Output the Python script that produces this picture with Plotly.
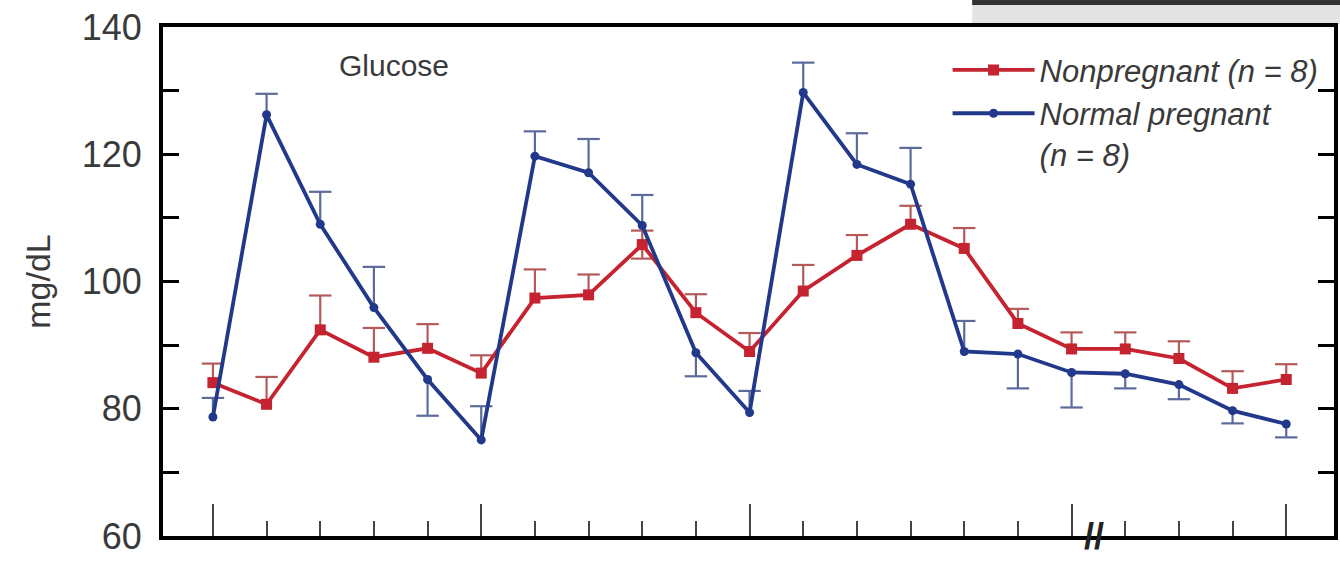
import plotly.graph_objects as go

# ---- data ----
time_index = list(range(21))
major_ticks = [0, 5, 10, 16, 20]

nonpreg = [84.1, 80.7, 92.4, 88.1, 89.5, 85.6, 97.4, 97.9, 105.8, 95.1, 89.0,
           98.5, 104.1, 109.0, 105.2, 93.4, 89.4, 89.4, 87.9, 83.2, 84.6]
nonpreg_up = [3.0, 4.3, 5.4, 4.6, 3.8, 2.8, 4.5, 3.2, 2.2, 2.9, 2.9,
              4.1, 3.2, 2.9, 3.2, 2.3, 2.6, 2.6, 2.7, 2.7, 2.4]
nonpreg_dn = [0, 0, 0, 0, 0, 0, 0, 0, 2.2, 0, 0,
              0, 0, 0, 0, 0, 0, 0, 0, 0, 0]

preg = [78.7, 126.2, 109.0, 95.9, 84.6, 75.1, 119.7, 117.1, 108.8, 88.8, 79.4,
        129.7, 118.4, 115.3, 89.0, 88.6, 85.7, 85.5, 83.8, 79.7, 77.6]
preg_up = [3.0, 3.3, 5.1, 6.4, 0, 5.3, 3.9, 5.3, 4.8, 0, 3.4,
           4.7, 4.9, 5.7, 4.8, 0, 0, 0, 0, 0, 0]
preg_dn = [0, 0, 0, 0, 5.7, 0, 0, 0, 0, 3.7, 0,
           0, 0, 0, 0, 5.4, 5.5, 2.3, 2.3, 2.0, 2.1]

y_ticks = [60, 80, 100, 120, 140]

RED = "#c4232f"
BLUE = "#22388a"
RED_ERR = "#b55a5a"
BLUE_ERR = "#5d6a9c"
FONT = "Liberation Sans, Arial, Helvetica, sans-serif"
X_RANGE = [-0.93, 20.89]


def err_traces(xs, ys, up, dn, color):
    sx, sy, cx, cy = [], [], [], []
    for x, y, u, d in zip(xs, ys, up, dn):
        if u > 0:
            sx += [x, x, None]
            sy += [y, y + u, None]
            cx.append(x)
            cy.append(y + u)
        if d > 0:
            sx += [x, x, None]
            sy += [y, y - d, None]
            cx.append(x)
            cy.append(y - d)
    stems = go.Scatter(x=sx, y=sy, mode="lines", line=dict(color=color, width=2.2),
                       showlegend=False, hoverinfo="skip")
    caps = go.Scatter(x=cx, y=cy, mode="markers",
                      marker=dict(symbol="line-ew", size=16,
                                  line=dict(color=color, width=2.2)),
                      showlegend=False, hoverinfo="skip")
    return [stems, caps]


fig = go.Figure()
for t in err_traces(time_index, nonpreg, nonpreg_up, nonpreg_dn, RED_ERR):
    fig.add_trace(t)
for t in err_traces(time_index, preg, preg_up, preg_dn, BLUE_ERR):
    fig.add_trace(t)

fig.add_trace(go.Scatter(
    x=time_index, y=nonpreg, mode="lines+markers",
    name="<i>Nonpregnant (n = 8)</i>",
    line=dict(color=RED, width=3.8),
    marker=dict(symbol="square", size=11, color=RED),
))
fig.add_trace(go.Scatter(
    x=time_index, y=preg, mode="lines+markers",
    name="<i>Normal pregnant<br>(n = 8)</i>",
    line=dict(color=BLUE, width=3.8),
    marker=dict(symbol="circle", size=9, color=BLUE),
))
# invisible trace on the overlay axis carrying the long (major) x ticks
fig.add_trace(go.Scatter(x=[X_RANGE[0]], y=[None], xaxis="x2", mode="markers",
                         showlegend=False, hoverinfo="skip"))

fig.update_layout(
    width=1340, height=563,
    margin=dict(l=163, r=2, t=27, b=27),
    paper_bgcolor="white", plot_bgcolor="white",
    font=dict(family=FONT, color="#3a3a3a"),
    showlegend=True,
    legend=dict(
        x=0.670, y=0.968, xanchor="left", yanchor="top",
        font=dict(size=31, color="#3a3a3a", family=FONT),
        bgcolor="rgba(0,0,0,0)", valign="top", itemwidth=82,
        tracegroupgap=0,
    ),
    annotations=[
        dict(text="Glucose", xref="paper", yref="paper", x=0.197, y=0.925,
             xanchor="center", yanchor="middle",
             showarrow=False, font=dict(size=30, color="#3a3a3a", family=FONT)),
        dict(text="<b>//</b>", xref="x", yref="paper", x=16.42, y=0.0,
             xanchor="center", yanchor="middle",
             showarrow=False, font=dict(size=36, color="#222", family=FONT)),
    ],
    shapes=[
        dict(type="rect", xref="paper", yref="paper", x0=0.691, x1=1.01,
             y0=1.006, y1=1.043, fillcolor="#e4e4e4", line=dict(width=0),
             layer="below"),
        dict(type="rect", xref="paper", yref="paper", x0=0.691, x1=1.01,
             y0=1.043, y1=1.06, fillcolor="#333333", line=dict(width=0)),
    ],
    xaxis=dict(
        range=X_RANGE, showgrid=False, zeroline=False,
        showline=True, linecolor="black", linewidth=4, mirror=True,
        tickmode="array", tickvals=time_index, showticklabels=False,
        ticks="inside", ticklen=15, tickwidth=2.4, tickcolor="#444",
    ),
    xaxis2=dict(
        overlaying="x", anchor="y", range=X_RANGE, showgrid=False,
        zeroline=False, showline=False, tickmode="array",
        tickvals=major_ticks, showticklabels=False, ticks="inside",
        ticklen=32, tickwidth=2.4, tickcolor="#444", side="bottom",
    ),
    yaxis=dict(
        range=[60, 140], showgrid=False, zeroline=False,
        showline=True, linecolor="black", linewidth=4, mirror="ticks",
        tickmode="array", tickvals=y_ticks,
        ticks="inside", ticklen=16, tickwidth=2.5, tickcolor="black",
        minor=dict(ticks="inside", ticklen=16, tickwidth=2.5, tickcolor="black",
                   tickmode="linear", tick0=60, dtick=10),
        tickfont=dict(size=36, color="#3a3a3a", family=FONT),
        ticklabelstandoff=10,
        title=dict(text="mg/dL",
                   font=dict(size=34, color="#3a3a3a", family=FONT),
                   standoff=22),
    ),
)

fig.write_html("out.html")
